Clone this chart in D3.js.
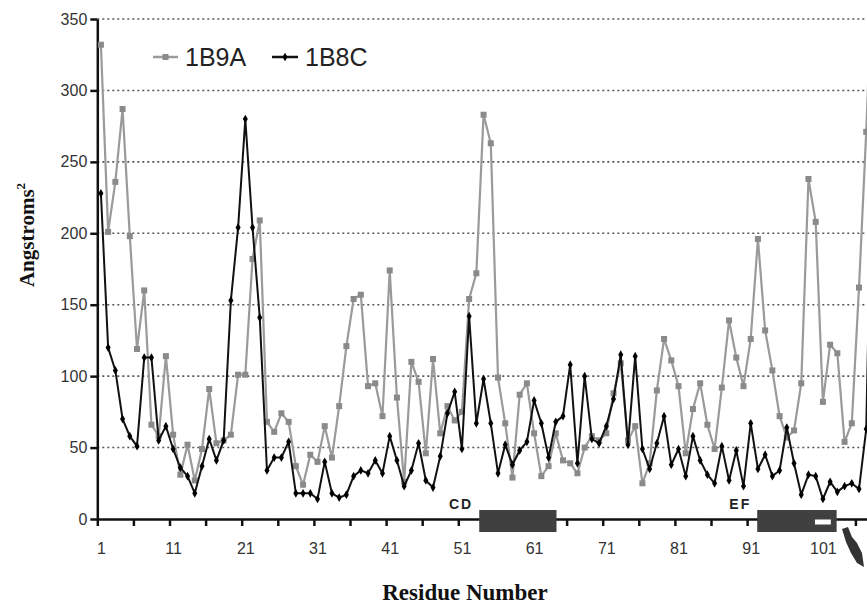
<!DOCTYPE html>
<html>
<head>
  <script src="https://d3js.org/d3.v7.min.js"></script>
  <meta charset='utf-8'>
  <title>Residue Surface Area</title>
  <style>
    body { margin: 0; background: #fff; }
    svg { display: block; }
  </style>
</head>

<body>
  <div id="container"></div>

  <script>
  // residue numbers 1..108 (the last one is cut off by the picture edge)
  const residues = d3.range(1, 109);

  const series1B9A = [
    332, 201, 236, 287, 198, 119, 160, 66, 58, 114,
    59, 31, 52, 27, 49, 91, 53, 55, 59, 101,
    101, 182, 209, 68, 61, 74, 68, 37, 24, 45,
    40, 65, 43, 79, 121, 154, 157, 93, 95, 72,
    174, 85, 26, 110, 96, 46, 112, 60, 79, 69,
    75, 154, 172, 283, 263, 99, 67, 29, 87, 95,
    60, 30, 37, 60, 41, 39, 32, 50, 58, 55,
    60, 88, 109, 55, 65, 25, 39, 90, 126, 111,
    93, 46, 77, 95, 66, 49, 92, 139, 113, 93,
    126, 196, 132, 104, 72, 57, 62, 95, 238, 208,
    82, 122, 116, 54, 67, 162, 271, 400
  ];

  const series1B8C = [
    228, 120, 104, 70, 58, 51, 113, 113, 55, 65,
    49, 36, 30, 18, 37, 56, 41, 55, 153, 204,
    280, 204, 141, 34, 43, 43, 54, 18, 18, 18,
    14, 40, 18, 15, 17, 30, 34, 32, 41, 32,
    58, 41, 23, 34, 53, 27, 22, 44, 74, 89,
    49, 142, 67, 98, 67, 32, 52, 38, 48, 54,
    83, 67, 43, 68, 72, 108, 39, 100, 56, 53,
    65, 84, 115, 52, 114, 49, 35, 53, 72, 38,
    49, 30, 58, 41, 31, 25, 51, 27, 48, 23,
    67, 35, 45, 30, 34, 64, 39, 17, 31, 30,
    14, 26, 19, 23, 25, 21, 63, 310
  ];

  const yTicks = [0, 50, 100, 150, 200, 250, 300, 350];
  const xLabels = [1, 11, 21, 31, 41, 51, 61, 71, 81, 91, 101];
  const xTickMarks = d3.range(0.5, 107, 5);

  // helix regions drawn over the axis
  const helixNames = ["CD", "EF"];
  const helixStart = [53.4, 91.9];
  const helixEnd = [64.1, 102.9];
  const gapStart = 99.9, gapEnd = 102.1;

  const width = 867, height = 606;

  const x = d3.scaleLinear().domain([0.5, 108.5]).range([97.3, 97.3 + 108 * 7.22]);
  const y = d3.scaleLinear().domain([0, 350]).range([519, 19]);

  const svg = d3.select("#container").append("svg")
    .attr("width", width)
    .attr("height", height);

  const sans = "Arial, 'Liberation Sans', sans-serif";
  const serif = "'Times New Roman', 'Liberation Serif', serif";

  // dotted grid
  svg.append("g")
    .selectAll("line")
    .data(yTicks.filter(d => d > 0))
    .enter()
    .append("line")
    .attr("x1", x(0.5))
    .attr("x2", width)
    .attr("y1", d => y(d))
    .attr("y2", d => y(d))
    .attr("stroke", "#555")
    .attr("stroke-width", 1.6)
    .attr("stroke-dasharray", "2,3");

  // x axis: ticks between categories, labels at centres
  const xAxis = svg.append("g")
    .attr("transform", `translate(0,${y(0)})`)
    .call(d3.axisBottom(x).tickValues(xTickMarks).tickFormat("").tickSizeInner(7).tickSizeOuter(0));
  xAxis.select(".domain").attr("stroke", "#111").attr("stroke-width", 2.5);
  xAxis.selectAll(".tick line").attr("stroke", "#111").attr("stroke-width", 2.5);

  const xLab = svg.append("g")
    .attr("transform", `translate(0,${y(0)})`)
    .call(d3.axisBottom(x).tickValues(xLabels).tickSize(0).tickPadding(24));
  xLab.select(".domain").remove();
  xLab.selectAll("text")
    .attr("font-family", sans)
    .attr("font-size", 16)
    .attr("fill", "#333");

  // y axis
  const yAxis = svg.append("g")
    .attr("transform", `translate(${x(0.5)},0)`)
    .call(d3.axisLeft(y).tickValues(yTicks).tickSizeInner(7).tickSizeOuter(0).tickPadding(3));
  yAxis.select(".domain").attr("stroke", "#111").attr("stroke-width", 2.5);
  yAxis.selectAll(".tick line").attr("stroke", "#111").attr("stroke-width", 2.5);
  yAxis.selectAll("text")
    .attr("font-family", sans)
    .attr("font-size", 16)
    .attr("fill", "#333");

  // helix bars
  const bars = svg.append("g");
  helixNames.forEach(function(name, i) {
    bars.append("rect")
      .attr("x", x(helixStart[i]))
      .attr("width", x(helixEnd[i]) - x(helixStart[i]))
      .attr("y", y(0) - 9)
      .attr("height", 22)
      .attr("fill", "#404040");
    bars.append("text")
      .attr("x", x(helixStart[i]) - 6)
      .attr("y", y(0) - 10)
      .attr("text-anchor", "end")
      .attr("font-family", sans)
      .attr("font-weight", "bold")
      .attr("font-size", 14)
      .attr("letter-spacing", 2)
      .attr("fill", "#222")
      .text(name);
  });
  bars.append("rect")
    .attr("x", x(gapStart))
    .attr("width", x(gapEnd) - x(gapStart))
    .attr("y", y(0) + 0.5)
    .attr("height", 5)
    .attr("fill", "#fff");

  // lines
  const line = d3.line()
    .x((d, i) => x(residues[i]))
    .y(d => y(d));

  svg.append("path")
    .datum(series1B9A)
    .attr("d", line)
    .attr("fill", "none")
    .attr("stroke", "#9a9a9a")
    .attr("stroke-width", 2.2);

  svg.append("g")
    .selectAll("rect")
    .data(series1B9A)
    .enter()
    .append("rect")
    .attr("x", (d, i) => x(residues[i]) - 3)
    .attr("y", d => y(d) - 3)
    .attr("width", 6)
    .attr("height", 6)
    .attr("fill", "#8a8a8a");

  svg.append("path")
    .datum(series1B8C)
    .attr("d", line)
    .attr("fill", "none")
    .attr("stroke", "#111")
    .attr("stroke-width", 2);

  const diamond = d3.symbol().type(d3.symbolDiamond).size(22);
  svg.append("g")
    .selectAll("path")
    .data(series1B8C)
    .enter()
    .append("path")
    .attr("d", diamond)
    .attr("transform", (d, i) => `translate(${x(residues[i])},${y(d)})`)
    .attr("fill", "#000");

  // legend
  const legend = svg.append("g");
  legend.append("line")
    .attr("x1", 153).attr("x2", 178).attr("y1", 57).attr("y2", 57)
    .attr("stroke", "#9a9a9a").attr("stroke-width", 2.5);
  legend.append("rect")
    .attr("x", 162.5).attr("y", 54).attr("width", 6).attr("height", 6)
    .attr("fill", "#8a8a8a");
  legend.append("text")
    .attr("x", 185).attr("y", 66)
    .attr("font-family", sans).attr("font-size", 25).attr("fill", "#222")
    .text("1B9A");
  legend.append("line")
    .attr("x1", 272).attr("x2", 298).attr("y1", 57).attr("y2", 57)
    .attr("stroke", "#111").attr("stroke-width", 2.5);
  legend.append("path")
    .attr("d", diamond)
    .attr("transform", "translate(285,57)")
    .attr("fill", "#000");
  legend.append("text")
    .attr("x", 305).attr("y", 66)
    .attr("font-family", sans).attr("font-size", 25).attr("fill", "#222")
    .text("1B8C");

  // axis titles
  svg.append("text")
    .attr("x", 465)
    .attr("y", 600)
    .attr("text-anchor", "middle")
    .attr("font-family", serif)
    .attr("font-weight", "bold")
    .attr("font-size", 23)
    .attr("fill", "#111")
    .text("Residue Number");

  const yTitle = svg.append("text")
    .attr("transform", "translate(34,235) rotate(-90)")
    .attr("text-anchor", "middle")
    .attr("font-family", serif)
    .attr("font-weight", "bold")
    .attr("font-size", 21)
    .attr("fill", "#111");
  yTitle.append("tspan").text("Angstroms");
  yTitle.append("tspan").attr("font-size", 13).attr("dy", -9).text("2");

  // small dark mark at the lower right corner
  svg.append("path")
    .attr("d", "M842,529 L848,527 L852,537 L857,543 L862,553 L864,567 L857,563 L851,553 L846,542 Z")
    .attr("fill", "#333");
  </script>

</body>
</html>
